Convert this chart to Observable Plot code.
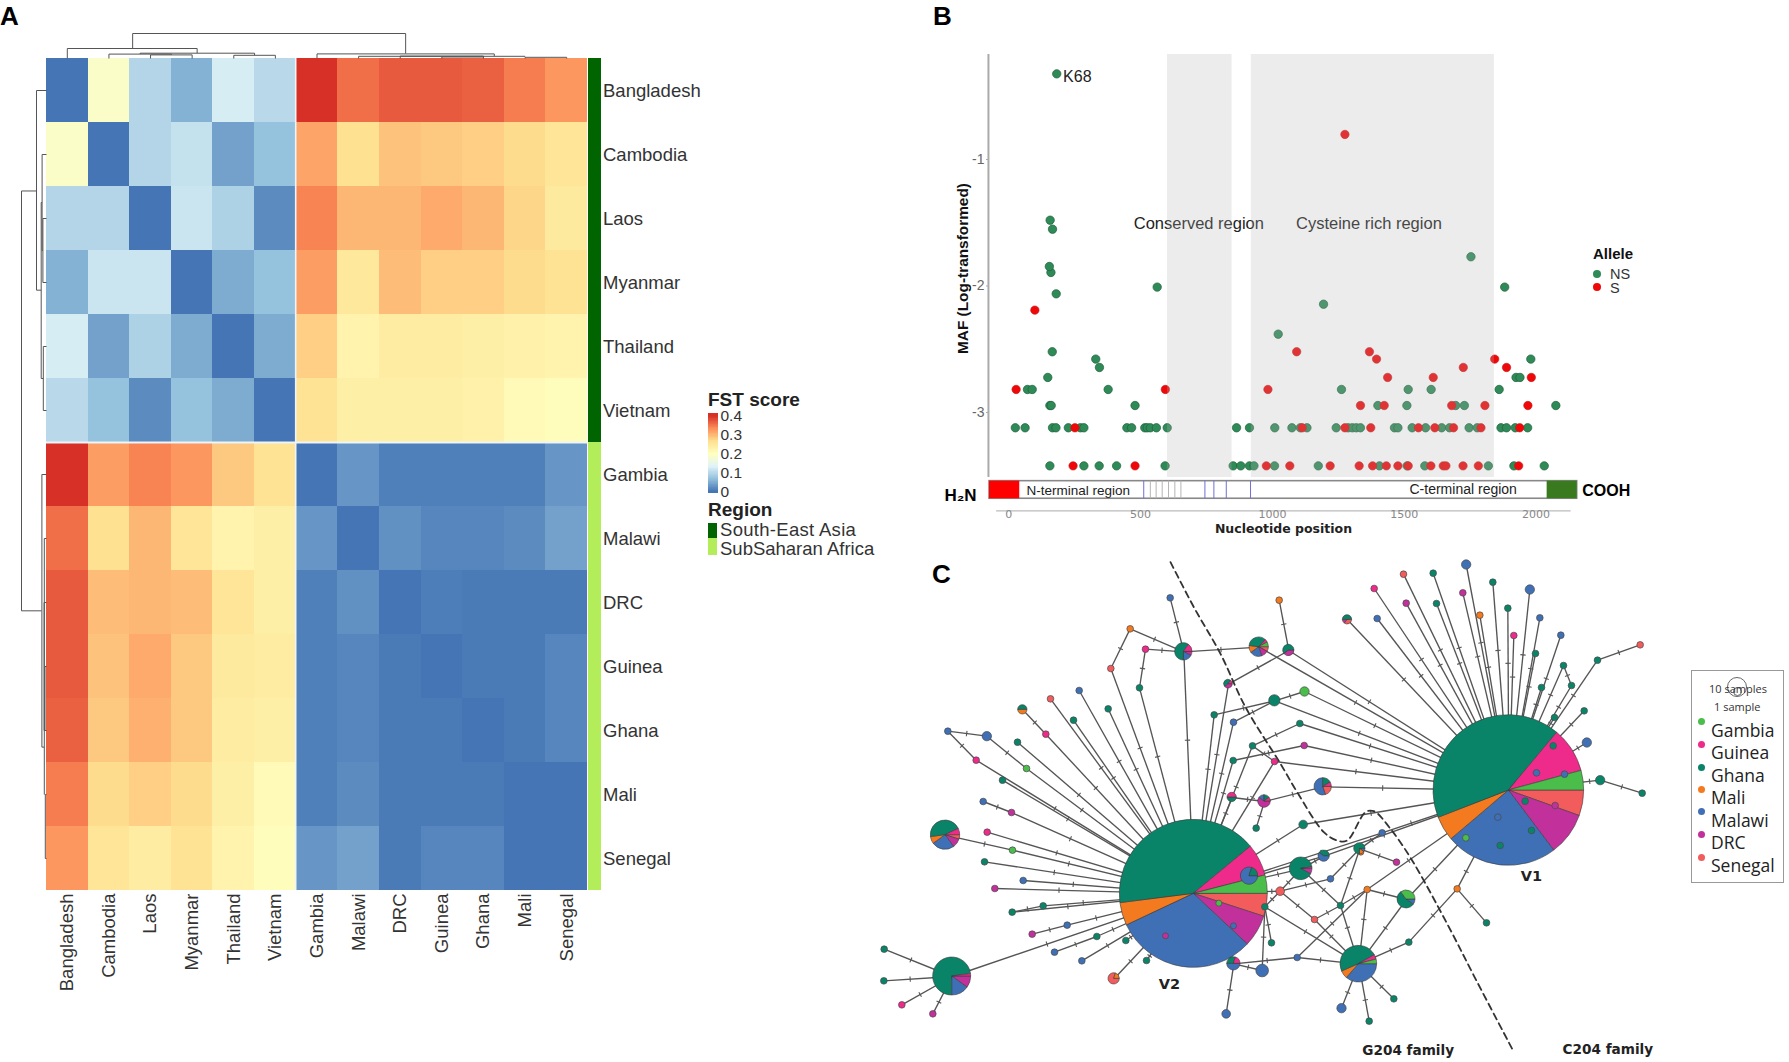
<!DOCTYPE html>
<html><head><meta charset="utf-8">
<script src="https://cdn.jsdelivr.net/npm/d3@7"></script>
<script src="https://cdn.jsdelivr.net/npm/@observablehq/plot@0.6"></script>
<style>
body{margin:0;background:#fff}
#root{position:relative;width:1789px;height:1062px;overflow:hidden;font-family:"Liberation Sans",sans-serif;color:#222}
.lab{position:absolute;white-space:nowrap;transform:translateY(-50%);line-height:1}
.box{position:absolute;box-sizing:border-box}
</style></head><body><div id="root"></div>
<script>
// ---------- Panel A data ----------
const countries=["Bangladesh","Cambodia","Laos","Myanmar","Thailand","Vietnam","Gambia","Malawi","DRC","Guinea","Ghana","Mali","Senegal"];
const seAsia=["Bangladesh","Cambodia","Laos","Myanmar","Thailand","Vietnam"];
const fstBangladesh=[0,.19,.095,.055,.125,.10,.40,.355,.37,.37,.365,.345,.325];
const fstCambodia=[.19,0,.095,.11,.04,.07,.315,.265,.29,.285,.28,.27,.255];
const fstLaos=[.095,.095,0,.115,.09,.02,.34,.30,.30,.31,.30,.275,.245];
const fstMyanmar=[.055,.115,.115,0,.05,.07,.32,.25,.295,.28,.28,.27,.26];
const fstThailand=[.125,.04,.09,.05,0,.05,.28,.225,.24,.24,.235,.23,.225];
const fstVietnam=[.10,.07,.02,.07,.05,0,.26,.235,.235,.235,.23,.21,.205];
const fstGambia=[.40,.32,.34,.325,.285,.26,0,.03,.01,.01,.01,.01,.03];
const fstMalawi=[.355,.265,.30,.255,.225,.235,.03,0,.025,.015,.015,.02,.04];
const fstDRC=[.37,.295,.30,.295,.255,.235,.01,.025,0,.008,.005,.005,.005];
const fstGuinea=[.37,.29,.31,.285,.245,.24,.01,.015,.005,0,.005,.005,.015];
const fstGhana=[.365,.285,.305,.285,.24,.235,.01,.015,.005,.005,0,.005,.015];
const fstMali=[.345,.27,.28,.27,.235,.21,.01,.02,.005,.005,.005,0,0];
const fstSenegal=[.325,.255,.24,.26,.225,.205,.03,.04,.005,.015,.015,0,0];
const fstRows=[fstBangladesh,fstCambodia,fstLaos,fstMyanmar,fstThailand,fstVietnam,fstGambia,fstMalawi,fstDRC,fstGuinea,fstGhana,fstMali,fstSenegal];
const fstStops=[0,.0667,.1333,.2,.2667,.3333,.4];
const fstColors=["#4575B4","#91BFDB","#E0F3F8","#FFFFBF","#FEE090","#FC8D59","#D73027"];
// dendrogram merges: left, right, height, left child height, right child height
const dendro=[[2.07,8.63,25,10,5],[.5,3.62,10,0,5.3],[2.25,5,5.3,4.4,3.2],[1.5,3,4.4,0,3.6],[2.5,3.5,3.6,0,0],[4.5,5.5,3.2,0,0],
 [6.5,10.76,4.6,0,2.2],[7.5,11.5,2.2,0,2.4],[8.5,10.5,2.4,0,1.5],[9.5,10.5,1.5,0,0],[11.5,12.5,1.2,0,0]];

// ---------- Panel B data ----------
const nsLevel342=[156,285,343,409,593,851,880,913,930,1008,1174,1406,1511,1578,1819,1916,2031];
const sLevel342=[244,479,977,1066,1219,1329,1380,1432,1476,1515,1601,1648,1658,1723,1781,1934];
const nsLevel312=[25,62,166,179,226,272,285,448,466,516,525,537,560,601,864,913,1009,1074,1106,1131,1242,1287,1303,1318,1334,1463,1476,1530,1581,1642,1672,1746,1777,1867,1888,1921,1968];
const sLevel312=[251,1113,1275,1373,1554,1616,1687,1791,1938];
const nsLevel295=[156,161,479,1400,1510,1695,1728,2075];
const sLevel295=[1334,1424,1680,1806,1969];
const nsLevel282=[71,89,377,1262,1515,1602,1860];
const sLevel282=[28,594,983];
const nsLevel272=[148,1924,1939];
const sLevel272=[1437,1610,1982];
const nsLevel264=[344];
const sLevel264=[1724,1888];
const nsLevel258=[330,1980];
const sLevel258=[1395,1843];
const nsLevel252=[165];
const sLevel252=[1092,1368];
const nsOtherX=[1022,1194,180,563,160,154,166,157,182,1753,1881];
const nsOtherY=[-2.381,-2.144,-2.062,-2.009,-1.893,-1.846,-1.551,-1.48,-.323,-1.769,-2.009];
const sOtherX=[99,1275];
const sOtherY=[-2.191,-.802];
const geneBlue=[512,744,778,825,917];
const geneGray=[537,559,582,606,630,653];

// ---------- Panel C data ----------
const legendOrder=["Gambia","Guinea","Ghana","Mali","Malawi","DRC","Senegal"];
const legendColors=["#4bbd4b","#ee2a8b","#0a8468","#f47a20","#3f6fb5","#c2319b","#f25c5c"];
const pieOrder=["Senegal","DRC","Malawi","Mali","Ghana","Guinea","Gambia"];
const code={Ga:"Gambia",Gu:"Guinea",Gh:"Ghana",Ml:"Mali",Mw:"Malawi",D:"DRC",S:"Senegal"};
const hubPies=[["V2",1000,1030,222,[5,7,31,5,41,7,4]],["V1",1945,720,226,[5.5,9.2,24.1,5.3,42,9.7,4.2]]];
const smallPies=[["p1",275,1278,57,[0,10,15,0,73,2,0]],["p2",255,854,44,[5,10,25,8,45,7,0]],["p3",970,304,26,[0,8,17,0,60,15,0]],
 ["p4",1196,290,29,[8,12,20,12,35,5,8]],["p5",1285,300,17,[0,40,0,0,60,0,0]],["p6",1104,401,13,[0,40,0,0,45,15,0]],["p7",1243,451,17,[0,0,0,0,100,0,0]],
 ["p8",1115,741,14,[0,0,0,0,50,50,0]],["p9",1212,753,19,[0,60,15,0,15,10,0]],["p10",1388,709,26,[20,0,55,0,17,8,0]],["p11",1322,955,34,[0,8,0,0,90,2,0]],
 ["p12",1391,917,17,[0,0,60,0,40,0,0]],["p13",1167,977,26,[0,0,80,0,20,0,0]],["p14",1120,1240,20,[0,0,50,0,30,20,0]],["p15",761,1285,17,[80,0,0,20,0,0,0]],
 ["p16",487,478,14,[0,0,0,50,50,0,0]],["p17",1498,895,17,[0,0,10,15,75,0,0]],["p18",1638,1047,27,[0,0,10,0,55,0,35]],["p19",1495,1241,55,[0,0,36,7,48,4,4]],["p20",1461,208,14,[35,15,0,0,50,0,0]]];
const smallNodes=[["a1",929,142,"Mw"],["a2",1256,149,"Ml"],["a3",809,235,"Ml"],["a4",855,296,"Gu"],["a5",751,354,"S"],["a6",837,412,"Gh"],["a7",656,420,"Mw"],["a8",570,445,"S"],["a9",743,475,"Gh"],["a10",639,509,"Gh"],
 ["a11",1061,493,"Gh"],["a12",1119,515,"Mw"],["a13",1332,423,"Ga",14],["a14",1318,519,"Gh"],["a15",1331,585,"D"],["a16",1176,586,"Gh"],["a17",1242,633,"Gu"],["a18",1118,630,"Gh"],["a19",262,542,"Mw"],["a20",379,557,"Mw",14],
 ["a21",556,551,"Gu"],["a22",471,575,"Gh"],["a23",347,629,"Gu"],["a24",498,654,"Ga"],["a25",426,689,"Gh"],["a26",368,753,"Mw"],["a27",453,786,"D"],["a28",380,845,"Gu"],["a29",456,899,"Ga"],["a30",372,934,"Gh"],
 ["a31",1187,833,"Gh"],["a32",1328,822,"Gh",13],["a33",488,990,"Mw"],["a34",403,1014,"D"],["a35",548,1066,"Gh"],["a36",455,1085,"Gh"],["a37",620,1124,"Mw"],["a38",515,1151,"D"],["a39",582,1205,"Mw"],["a40",664,1231,"Mw"],
 ["a41",709,1158,"Gh"],["a42",796,1170,"Gh"],["a43",858,1230,"Gh"],["a44",71,1196,"Gh"],["a45",70,1291,"Gh"],["a46",124,1363,"Gu"],["a47",217,1390,"D"],["a48",1097,1390,"Mw",13],["a49",1205,1260,"Mw",19],["a50",1233,1177,"Gh"],
 ["a51",1213,1069,"Gh"],["a52",1259,1022,"S",13],["a53",1410,985,"Mw"],["a54",1362,1107,"S"],["a55",1310,1221,"Mw"],["a56",1440,1065,"Gh"],["a57",1075,1058,"Ga",9],["a58",1119,1126,"Mw",9],["a59",915,1156,"D",9],
 ["b1",1817,42,"Mw",14],["b2",1629,71,"S"],["b3",1718,68,"Gh"],["b4",1897,95,"Gh"],["b5",1541,114,"Gu"],["b6",2008,117,"Mw",14],["b7",1807,127,"D"],["b8",1637,158,"D"],["b9",1728,159,"Gh"],["b10",1942,173,"Gh"],
 ["b11",1858,194,"Ml"],["b12",1550,204,"Mw"],["b13",2038,202,"Mw"],["b14",1960,255,"Gu"],["b15",2101,254,"Mw"],["b16",2025,309,"Gh"],["b17",2339,283,"S"],["b18",2211,329,"Gh"],["b19",2109,345,"Gh"],["b20",2133,405,"Gh"],
 ["b21",2043,411,"Gh"],["b22",2171,481,"Gh"],["b23",2082,501,"Gh"],["b24",2179,576,"Mw",14],["b25",2219,689,"Gh",14],["b26",2345,728,"Gh"],["b27",1565,847,"Mw"],["b28",1608,935,"D"],["b29",1501,905,"Ml",9],["b30",1520,1017,"Ml"],
 ["b31",1790,1015,"Ml"],["b32",1878,1117,"Gh"],["b33",1645,1175,"Gh"],["b34",1443,1373,"Mw",14],["b35",1600,1345,"Gh"],["b36",1526,1412,"Gh"],
 ["b37",2078,586,"Gh"],["b38",2028,667,"Mw"],["b39",2112,671,"Mw"],["b40",1994,752,"Gh"],["b41",2084,765,"D"],["b42",1912,800,"Mw"],["b43",2013,840,"Gh"],["b44",1816,862,"Ga"],["b45",1919,885,"Gh"]];
const edgeList=`p1-V2 p1-a44 p1-a45 p1-a46 p1-a47 a40-V2 a39-a41 a41-V2 a42-V2 a43-V2 p15-V2 a38-a37 a37-V2 a36-a35 a35-V2 a36-V2 a34-V2 a33-V2 a30-V2 a29-V2 p2-a29 a28-V2 a26-a27 a27-V2 a25-V2 a19-a23 a23-V2 a19-a20 a20-a24 a24-V2 a22-V2 p16-a21 a21-V2 a10-V2 a8-V2 a7-V2 a9-V2 a5-a3 a3-p3 a5-V2 a6-a4 a4-p3 a6-V2 p3-V2 a1-p3 p3-p4 a11-V2 a11-p7 a12-V2 a12-p7 p7-a13 p6-V2 p6-p5 p5-a2 a18-V2 a18-a15 a16-V2 a16-a14 a17-V2 a16-a17 p8-V2 p8-p9 p9-p10 p9-a31 a32-V2 a32-V1 p10-V1 p4-V1 p5-V1 a13-V1 p7-V1 a14-V1 a15-V1 a17-V1 p11-V2 p12-V2 p12-V1 b27-V2 b27-V1 b27-p17 p11-p12 a52-V2 a52-p11 a52-a53 a53-p17 p17-b28 p18-V1 p17-a56 a52-a54 b30-a56 b30-p18 b30-V1 a56-a54 a56-p11 a54-p19 a56-p19 b30-p19 p18-p19 b33-p19 b33-b31 b31-V1 b31-b32 p19-b34 p19-b35 p19-b36 a55-p19 a55-p14 a55-b30 a51-p19 a51-a52 a51-a50 a51-a49 p14-a48 p14-a49 p14-V2 p20-V1 b12-V1 b5-V1 b8-V1 b2-V1 b9-V1 b3-V1 b7-V1 b1-V1 b11-V1 b4-V1 b10-V1 b14-V1 b6-V1 b16-V1 b13-V1 b15-V1 b21-V1 b19-V1 b23-V1 b18-V1 b22-V1 b24-V1 b25-V1 b19-b20 b20-V1 b18-b17 b25-b26`.split(" ");
const dashX=[930,1000,1080,1155,1260,1310,1390,1430,1460,1515,1540,1590,1655,1760,1845,1955];
const dashY=[35,170,310,470,640,725,845,870,870,785,782,835,930,1120,1285,1495];

// ---------- helpers ----------
const root=document.getElementById("root");
const base=(f,s)=>({background:"transparent",fontFamily:f||"Liberation Sans",fontSize:(s||14)+"px",overflow:"visible"});
function place(el,x,y){el.style.position="absolute";el.style.left=x+"px";el.style.top=y+"px";root.appendChild(el);return el;}
function label(text,x,yc,css=""){const d=document.createElement("div");d.className="lab";d.style.cssText=`left:${x}px;top:${yc}px;${css}`;d.textContent=text;root.appendChild(d);}
function box(x,y,w,h,css){const d=document.createElement("div");d.className="box";d.style.cssText=`left:${x}px;top:${y}px;width:${w}px;height:${h}px;${css}`;root.appendChild(d);}
const note=(text,x,y,o={})=>Plot.text([{text,x,y}],{x:"x",y:"y",text:"text",...o});

// ---------- Panel A ----------
const fstTable=fstRows.flatMap((r,i)=>r.map((v,j)=>({row:countries[i],col:countries[j],v})));
const fstColor={type:"linear",domain:fstStops,range:fstColors,clamp:true};
place(Plot.plot({width:587,height:1000,marginLeft:46,marginRight:0,marginTop:58,marginBottom:110,style:base(),
 x:{domain:countries,padding:0,round:false},y:{domain:countries,padding:0,round:false,axis:null},color:fstColor,
 marks:[
  Plot.cell(fstTable,{x:"col",y:"row",fill:"v",shapeRendering:"crispEdges"}),
  Plot.ruleX(["Gambia"],{x:d=>d,dx:-21.3,stroke:"#eef4f8",strokeWidth:1.6}),
  Plot.ruleY(["Gambia"],{y:d=>d,dy:-32,stroke:"#eef4f8",strokeWidth:2}),
  Plot.axisX({anchor:"bottom",tickRotate:-90,tickSize:0,tickPadding:3,label:null,fontSize:18.5,fill:"#333"})
 ]}),0,0);
const segs=dendro.flatMap(([l,r,h,hl,hr])=>[{p1:l,h1:h,p2:r,h2:h},{p1:l,h1:h,p2:l,h2:hl},{p1:r,h1:h,p2:r,h2:hr}]);
place(Plot.plot({width:541,height:30,margin:0,style:base(),x:{domain:[0,13],range:[0,541],axis:null},y:{domain:[0,30],range:[30,0],axis:null},
 marks:[Plot.link(segs,{x1:"p1",x2:"p2",y1:"h1",y2:"h2",stroke:"#555",strokeWidth:1})]}),46,28);
place(Plot.plot({width:30,height:832,margin:0,style:base(),x:{domain:[30,0],range:[0,30],axis:null},y:{domain:[0,13],range:[0,832],axis:null},
 marks:[Plot.link(segs,{y1:"p1",y2:"p2",x1:"h1",x2:"h2",stroke:"#555",strokeWidth:1})]}),16,58);
place(Plot.plot({width:200,height:1000,marginLeft:0,marginRight:187.5,marginTop:58,marginBottom:110,style:base(),
 x:{domain:["Region"],padding:0,round:false,axis:null},y:{domain:countries,padding:0,round:false},
 marks:[
  Plot.cell(countries,{x:()=>"Region",y:d=>d,fill:d=>seAsia.includes(d)?"#006400":"#B3EE5A",shapeRendering:"crispEdges"}),
  Plot.axisY({anchor:"right",tickSize:0,tickPadding:2,label:null,fontSize:18.5,fill:"#333",dy:1})
 ]}),588,0);
// FST legend
label("FST score",708,400,"font:bold 19px 'Liberation Sans'");
const barTop=.4125,barBottom=-.004;
place(Plot.plot({width:50,height:95,marginLeft:0,marginRight:40,marginTop:5,marginBottom:5,style:base(),
 x:{domain:[0,1],range:[0,10],axis:null},y:{domain:[0,.4],range:[87,11]},color:fstColor,
 marks:[
  Plot.rect(d3.range(barBottom,barTop,.004),{x1:0,x2:1,y1:d=>d,y2:d=>d+.0045,fill:d=>d,shapeRendering:"crispEdges"}),
  Plot.axisY({anchor:"right",ticks:[0,.1,.2,.3,.4],tickFormat:d=>String(d),tickSize:0,tickPadding:2,label:null,fontSize:15.5,fill:"#333"})
 ]}),708,405);
label("Region",708,510,"font:bold 19px 'Liberation Sans'");
box(708,522.5,9,15,"background:#006400");
box(708,537.5,9,17.5,"background:#B3EE5A");
label("South-East Asia",720,530,"font:18.5px 'Liberation Sans';color:#333;letter-spacing:.3px");
label("SubSaharan Africa",720,549,"font:18.5px 'Liberation Sans';color:#333");
label("A",0,15.5,"font:bold 26px 'Liberation Sans';color:#000");
label("B",933,15.5,"font:bold 26px 'Liberation Sans';color:#000");
label("C",932,574,"font:bold 26px 'Liberation Sans';color:#000");

// ---------- Panel B ----------
const mk=(xs,y)=>xs.map(x=>({x,y}));
const nsPoints=[[nsLevel342,-3.422],[nsLevel312,-3.121],[nsLevel295,-2.945],[nsLevel282,-2.818],[nsLevel272,-2.723],[nsLevel264,-2.644],[nsLevel258,-2.578],[nsLevel252,-2.52]].flatMap(([x,y])=>mk(x,y)).concat(nsOtherX.map((x,i)=>({x,y:nsOtherY[i]})));
const sPoints=[[sLevel342,-3.422],[sLevel312,-3.121],[sLevel295,-2.945],[sLevel282,-2.818],[sLevel272,-2.723],[sLevel264,-2.644],[sLevel258,-2.578],[sLevel252,-2.52]].flatMap(([x,y])=>mk(x,y)).concat(sOtherX.map((x,i)=>({x,y:sOtherY[i]})));
const geneTop=-3.543,geneBottom=-3.682;
const regionBands=[{a:602,b:847},{a:920,b:1842}];
place(Plot.plot({width:720,height:500,marginLeft:58,marginRight:20,marginTop:14,marginBottom:29,style:base(),
 x:{domain:[-73,2156],range:[59,646.7]},y:{domain:[-.17,-3.514],range:[14,437]},
 marks:[
  Plot.ruleX([-77],{y1:-.17,y2:-3.514,stroke:"#aaa",strokeWidth:2}),
  Plot.axisY({ticks:[-1,-2,-3],tickFormat:d=>String(d),tickSize:2,tickPadding:2,label:null,fontSize:14,fill:"#666",stroke:"#aaa"}),
  Plot.dot(nsPoints,{x:"x",y:"y",r:4.2,fill:"#2e8b57",stroke:"#1f5f3c",strokeWidth:.7}),
  Plot.dot(sPoints,{x:"x",y:"y",r:4.2,fill:"#f00808",stroke:"#c01818",strokeWidth:.6}),
  note("K68",206,-.344,{textAnchor:"start",fontSize:16,fill:"#222"}),
  note("Conserved region",721,-1.504,{fontSize:16.5,fill:"#222"}),
  note("Cysteine rich region",1366,-1.504,{fontSize:16.5,fill:"#222"}),
  Plot.rect(regionBands,{x1:"a",x2:"b",y1:-.17,y2:-3.514,fill:"#b4b4b4",fillOpacity:.25}),
  note("MAF (Log-transformed)",-175,-1.862,{rotate:-90,fontSize:15.4,fontWeight:"bold",fill:"#111"}),
  Plot.rect([{a:-73,b:2156}],{x1:"a",x2:"b",y1:geneTop,y2:geneBottom,fill:"white",stroke:"#888",strokeWidth:1.6}),
  Plot.rect([{a:-73,b:41.7}],{x1:"a",x2:"b",y1:geneTop,y2:geneBottom,fill:"#ff0000"}),
  Plot.rect([{a:2042,b:2156}],{x1:"a",x2:"b",y1:geneTop,y2:geneBottom,fill:"#3a7a1e"}),
  Plot.ruleX(geneBlue,{y1:geneTop,y2:geneBottom,stroke:"#6f6fd6"}),
  Plot.ruleX(geneGray,{y1:geneTop,y2:geneBottom,stroke:"#b5b5b5"}),
  note("N-terminal region",67,-3.617,{textAnchor:"start",fontSize:13.5,fill:"#222"}),
  note("C-terminal region",1520,-3.606,{textAnchor:"start",fontSize:14,fill:"#222"}),
  note("H\u2082N",-244,-3.656,{textAnchor:"start",fontSize:17,fontWeight:"bold",fill:"#000"}),
  note("COOH",2175,-3.617,{textAnchor:"start",fontSize:16,fontWeight:"bold",fill:"#000"}),
  Plot.ruleY([-3.778],{x1:-46,x2:2133,stroke:"#bbb",strokeWidth:1.2}),
  Plot.axisX({anchor:"bottom",ticks:[0,500,1000,1500,2000],tickFormat:d=>String(d),tickSize:0,tickPadding:-1,label:null,fontSize:11,fontFamily:"DejaVu Sans",fill:"#888"}),
  note("Nucleotide position",1042,-3.925,{fontSize:12.5,fontWeight:"bold",fontFamily:"DejaVu Sans",fill:"#222"})
 ]}),930,40);
label("Allele",1593,252.7,"font:bold 15px 'Liberation Sans';color:#111");
box(1593,270,8,8,"background:#2e8b57;border-radius:50%");
box(1593,283,8,8,"background:#f00808;border-radius:50%");
label("NS",1610,274,"font:14.5px 'Liberation Sans';color:#333");
label("S",1610,287.5,"font:14.5px 'Liberation Sans';color:#333");

// ---------- Panel C ----------
const pieRows=a=>a.map(([id,x,y,r,shares])=>({id,x,y,r,shares}));
const hubs=pieRows(hubPies),pies=pieRows(smallPies);
const nodes=smallNodes.map(([id,x,y,c,r])=>({id,x,y,c:code[c],r:r||10}));
const byId=new Map([...hubs,...pies,...nodes].map(n=>[n.id,n]));
const edges=edgeList.map(e=>{const [a,b]=e.split("-");return {a:byId.get(a),b:byId.get(b)};});
const ticks=edges.map(({a,b})=>{const dx=b.x-a.x,dy=b.y-a.y,d=Math.hypot(dx,dy),m=(a.r+d-b.r)/2,ux=dx/d,uy=dy/d,cx=a.x+ux*m,cy=a.y+uy*m;
 return {x1:cx-uy*8,y1:cy+ux*8,x2:cx+uy*8,y2:cy-ux*8};});
const pieMark=rows=>(index,scales)=>{
 const g=d3.create("svg:g"),arc=d3.arc();
 for(const p of rows){
  const R=scales.r(p.r),total=d3.sum(p.shares);let a=Math.PI/2;
  p.shares.forEach((s,i)=>{ if(!s) return; const e=a+s/total*2*Math.PI;
   g.append("path").attr("transform",`translate(${scales.x(p.x)},${scales.y(p.y)})`)
    .attr("d",arc({innerRadius:0,outerRadius:R,startAngle:a,endAngle:e}))
    .attr("fill",scales.color(pieOrder[i])).attr("stroke","#3d3d3d").attr("stroke-width",.6);a=e;});
 }
 return g.node();
};
place(Plot.plot({width:929,height:512,margin:0,style:base(),
 x:{domain:[0,2787],range:[0,929],axis:null},y:{domain:[0,1536],range:[0,512],axis:null},
 r:{type:"linear",domain:[0,300],range:[0,100]},color:{domain:legendOrder,range:legendColors},
 marks:[
  Plot.link(edges,{x1:d=>d.a.x,y1:d=>d.a.y,x2:d=>d.b.x,y2:d=>d.b.y,stroke:"#555",strokeWidth:1.35}),
  Plot.link(ticks,{x1:"x1",y1:"y1",x2:"x2",y2:"y2",stroke:"#555",strokeWidth:1.1}),
  Plot.line(dashX.map((x,i)=>({x,y:dashY[i]})),{x:"x",y:"y",curve:"catmull-rom",stroke:"#333",strokeWidth:1.8,strokeDasharray:"6.5,4.5"}),
  pieMark(hubs),
  Plot.dot(nodes,{x:"x",y:"y",r:"r",fill:"c",stroke:"#4a4a4a",strokeWidth:.7}),
  pieMark(pies),
  note("V2",927,1302,{fontSize:14.5,fontWeight:"bold",fontFamily:"DejaVu Sans",fill:"#222"}),
  note("V1",2013,978,{fontSize:14.5,fontWeight:"bold",fontFamily:"DejaVu Sans",fill:"#222"}),
  note("G204 family",1643,1499,{fontSize:13.6,fontWeight:"bold",fontFamily:"DejaVu Sans",fill:"#222"}),
  note("C204 family",2242,1496,{fontSize:13.6,fontWeight:"bold",fontFamily:"DejaVu Sans",fill:"#222"})
 ]}),860,550);
// sample-size legend
box(1691,670,92.5,213,"border:1.5px solid #999");
box(1727,677,20,20,"border:1px solid #666;border-radius:50%");
box(1733,687,9,9,"border:1px solid #666;border-radius:50%");
label("10 samples",1709,688,"font:11px 'Open Sans';color:#333");
label("1 sample",1714,706,"font:11px 'Open Sans';color:#333");
const legendTextY=[729.7,752.3,775,797.3,819.7,842.3,865];
legendOrder.forEach((c,i)=>{
 box(1697.5,legendTextY[i]-11.5,7,7,`background:${legendColors[i]};border-radius:50%`);
 label(c,1711,legendTextY[i],"font:17.5px 'Open Sans';color:#222");
});
</script></body></html>
